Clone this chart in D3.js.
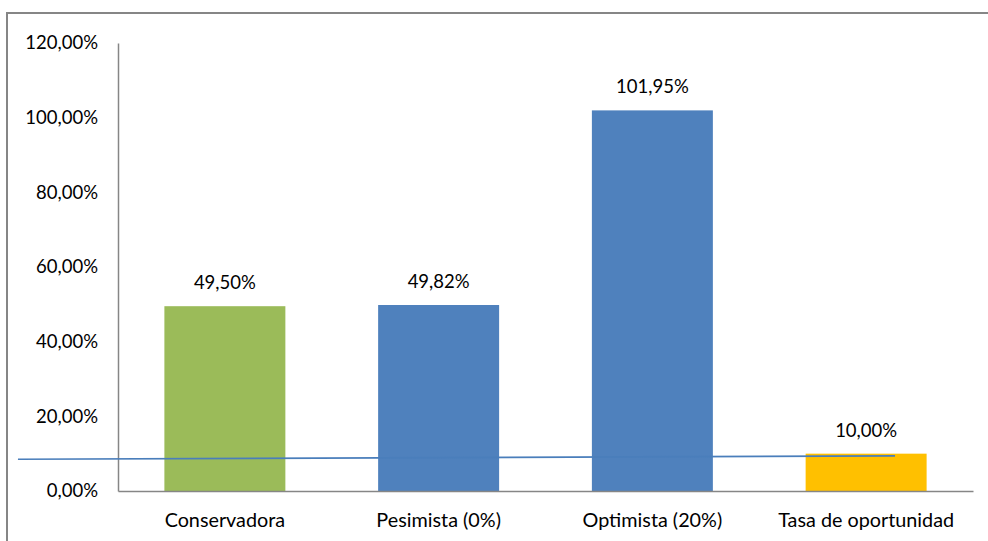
<!DOCTYPE html>
<html>
<head>
<meta charset="utf-8">
<script src="https://cdn.jsdelivr.net/npm/d3@7"></script>
<style>
  html, body { margin: 0; padding: 0; background: #fff; }
  svg { display: block; }
  text { font-family: Lato, "Open Sans", sans-serif; fill: #000; }
</style>
</head>
<body>
<svg id="chart" width="988" height="541"></svg>
<script>
// Rentabilidad por escenario
const categories = ["Conservadora", "Pesimista (0%)", "Optimista (20%)", "Tasa de oportunidad"];
const values = [49.50, 49.82, 101.95, 10.00];
const barColors = ["#9BBB59", "#4F81BD", "#4F81BD", "#FFC000"];
const yTicks = [0, 20, 40, 60, 80, 100, 120];
// Línea de referencia: posición en unidades de categoría y valor en %
const refLine = [
  { pos: -0.968, value: 8.5 },
  { pos: 3.135, value: 9.4 }
];

const fmt = v => v.toFixed(2).replace(".", ",") + "%";

const svg = d3.select("#chart");
const margin = { left: 118, right: 15, top: 43, bottom: 50 };
const W = 988, H = 541;
const x0 = margin.left, x1 = W - margin.right;
const yBottom = H - margin.bottom, yTop = margin.top;

// Marco exterior del gráfico
svg.append("rect")
  .attr("x", 7).attr("y", 13)
  .attr("width", W + 10).attr("height", H + 10)
  .attr("fill", "none").attr("stroke", "#868686").attr("stroke-width", 2);

const x = d3.scaleBand()
  .domain(categories)
  .range([x0, x1])
  .paddingInner(0.434)
  .paddingOuter(0.217);

const y = d3.scaleLinear().domain([0, 120]).range([yBottom, yTop]);

// Escala continua sobre el índice de categoría (para la línea de referencia)
const xi = d3.scaleLinear().domain([-0.5, categories.length - 0.5]).range([x0, x1]);

// Eje Y: etiquetas sin marcas
const yAxis = d3.axisLeft(y).tickValues(yTicks).tickFormat(d => fmt(d)).tickSize(0).tickPadding(20);
const gy = svg.append("g").attr("transform", `translate(${x0},0)`).call(yAxis);
gy.select(".domain").attr("stroke", "#868686").attr("stroke-width", 1.5);
gy.selectAll("text").attr("font-size", 18.5).attr("font-family", "Lato, sans-serif").attr("fill", "#000");

// Barras
svg.append("g").selectAll("rect")
  .data(values)
  .join("rect")
  .attr("x", (d, i) => x(categories[i]))
  .attr("y", d => y(d))
  .attr("width", x.bandwidth())
  .attr("height", d => y(0) - y(d))
  .attr("fill", (d, i) => barColors[i]);

// Etiquetas de valor
svg.append("g").selectAll("text")
  .data(values)
  .join("text")
  .attr("x", (d, i) => x(categories[i]) + x.bandwidth() / 2)
  .attr("y", d => y(d) - 17)
  .attr("text-anchor", "middle")
  .attr("font-size", 18.5)
  .text(d => fmt(d));

// Eje X
const xAxis = d3.axisBottom(x).tickSize(0).tickPadding(22);
const gx = svg.append("g").attr("transform", `translate(0,${yBottom})`).call(xAxis);
gx.select(".domain").attr("stroke", "#868686").attr("stroke-width", 1.5);
gx.selectAll("text").attr("font-size", 19.8).attr("font-family", "Lato, sans-serif").attr("fill", "#000");

// Línea de referencia
svg.append("path")
  .datum(refLine)
  .attr("fill", "none")
  .attr("stroke", "#4A7EBB")
  .attr("stroke-width", 1.6)
  .attr("d", d3.line().x(d => xi(d.pos)).y(d => y(d.value)));
</script>
</body>
</html>
